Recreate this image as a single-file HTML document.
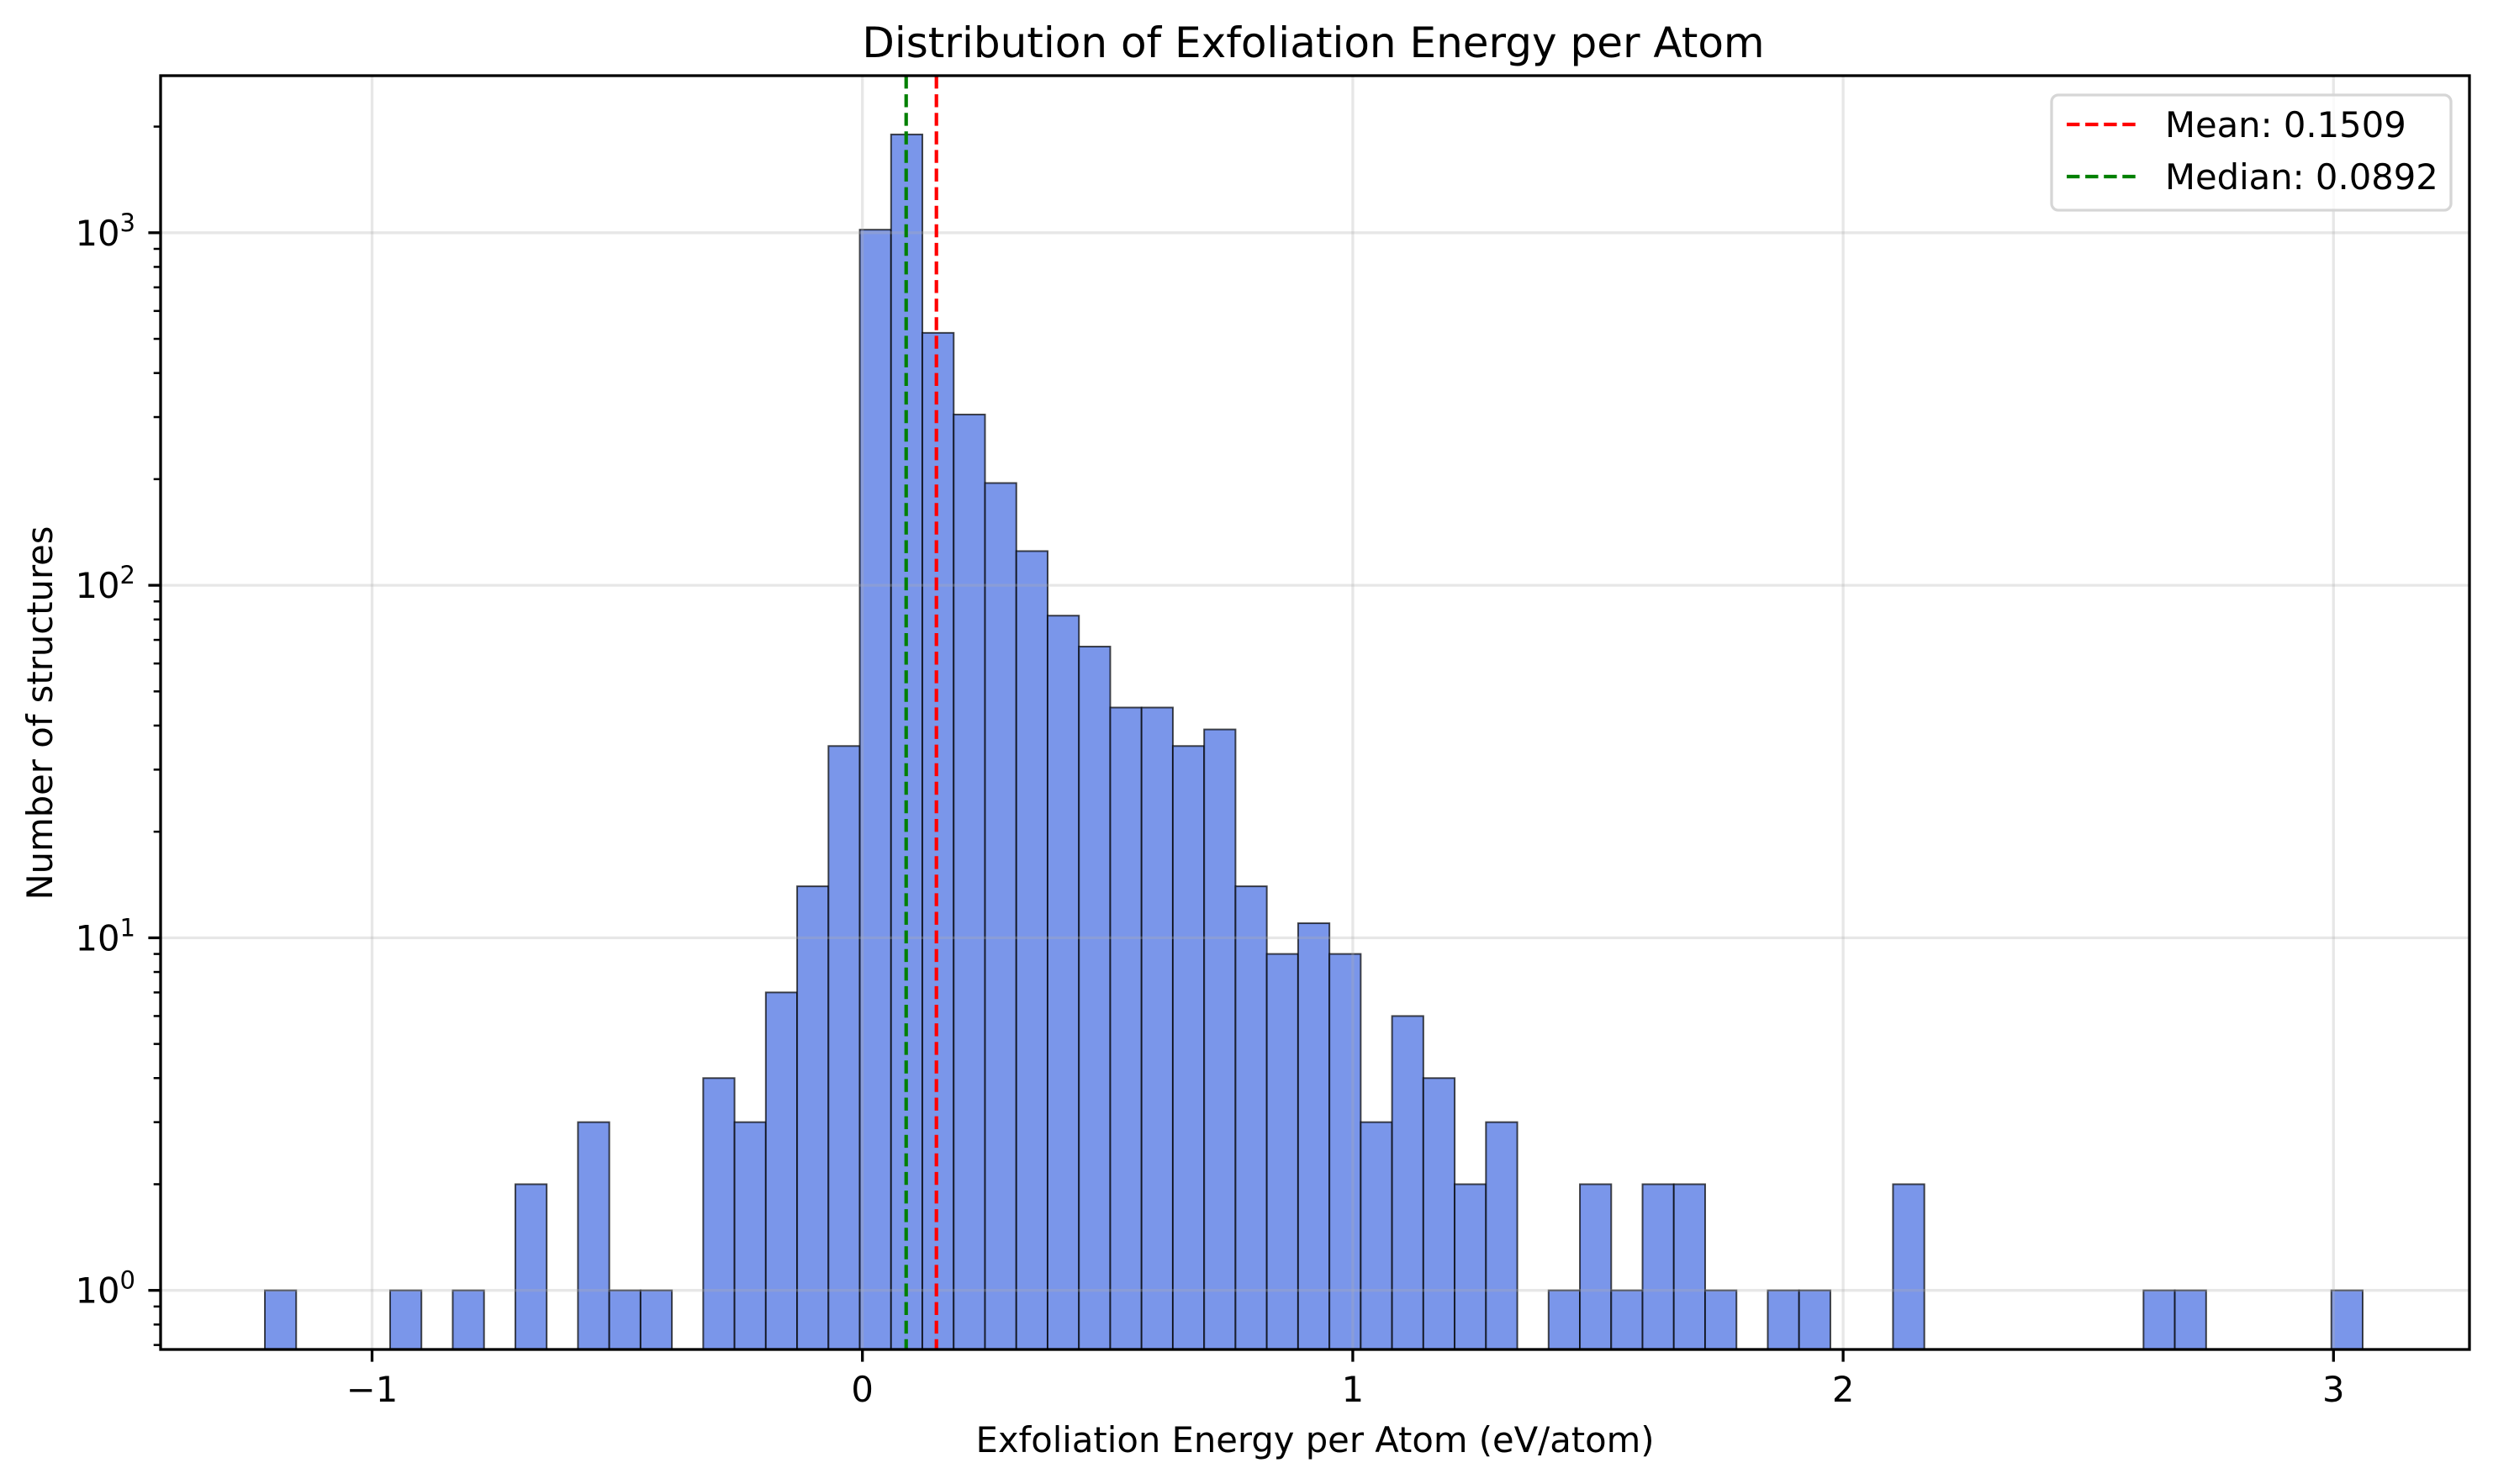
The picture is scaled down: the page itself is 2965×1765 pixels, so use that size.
<!DOCTYPE html>
<html><head><meta charset="utf-8"><style>
html,body{margin:0;padding:0;background:#fff;}
svg{display:block;font-family:"DejaVu Sans","Liberation Sans",sans-serif;}
</style></head><body>
<svg id="chart" width="2965" height="1765" viewBox="0 0 2965 1765" xmlns="http://www.w3.org/2000/svg">
<rect x="0" y="0" width="2965" height="1765" fill="#fff"/>
<g id="bars"></g>
<g id="grid"></g>
<g id="refs"></g>
<rect x="191" y="90" width="2746" height="1515" fill="none" stroke="#000" stroke-width="3.3"/>
<g id="xticks"></g>
<g id="yticks"></g>
<text x="1562" y="68" font-size="50" text-anchor="middle">Distribution of Exfoliation Energy per Atom</text>
<text x="1564" y="1727" font-size="41.7" text-anchor="middle">Exfoliation Energy per Atom (eV/atom)</text>
<text x="0" y="0" font-size="41.7" text-anchor="middle" transform="translate(62,848) rotate(-90)">Number of structures</text>
<g>
<rect x="2440" y="113" width="475" height="137" rx="8" fill="#fff" fill-opacity="0.8" stroke="#d6d6d6" stroke-width="3.3"/>
<line x1="2458" y1="148" x2="2541" y2="148" stroke="#ff0000" stroke-width="4.2" stroke-dasharray="15.4,6.7"/>
<text x="2575" y="163" font-size="41.7">Mean: 0.1509</text>
<line x1="2458" y1="210" x2="2541" y2="210" stroke="#008000" stroke-width="4.2" stroke-dasharray="15.4,6.7"/>
<text x="2575" y="225" font-size="41.7">Median: 0.0892</text>
</g>
</svg>
<script>
const binStart = -1.2186;
const binEnd = 3.0595;
const counts = [1,0,0,0,1,0,1,0,2,0,3,1,1,0,4,3,7,14,35,1020,1900,520,305,195,125,82,67,45,45,35,39,14,9,11,9,3,6,4,2,3,0,1,2,1,2,2,1,0,1,1,0,0,2,0,0,0,0,0,0,0,1,1,0,0,0,0,1];
const xTicks = [-1,0,1,2,3];
const xTickLabels = ["\u22121","0","1","2","3"];
const yTickExps = [0,1,2,3];
const meanValue = 0.1509;
const medianValue = 0.0892;

const NS = "http://www.w3.org/2000/svg";
const L = 191, R = 2937, T = 90, B = 1605;
function xs(v){ return 1025.7 + v * 583.2; }
function ys(v){ return 1534.7 - Math.log10(v) * 419.3; }
function mk(tag, attrs, parent){
  const e = document.createElementNS(NS, tag);
  for (const k in attrs) e.setAttribute(k, attrs[k]);
  parent.appendChild(e);
  return e;
}
const grid = document.getElementById('grid');
const bars = document.getElementById('bars');
const refs = document.getElementById('refs');
const xg = document.getElementById('xticks');
const yg = document.getElementById('yticks');

xTicks.forEach((t, i) => {
  const x = xs(t);
  const gl = mk('line', {x1:x, y1:T, x2:x, y2:B, stroke:'#b0b0b0', 'stroke-opacity':0.3, 'stroke-width':3.3}, grid);
  
  
  const tk = mk('line', {x1:x, y1:B, x2:x, y2:B+14.6, stroke:'#000', 'stroke-width':3.3}, xg);
  
  
  const tx = mk('text', {x:x, y:1667, 'font-size':41.7, 'text-anchor':'middle'}, xg);
  tx.textContent = xTickLabels[i];
  
  
});

yTickExps.forEach(p => {
  const y = ys(Math.pow(10, p));
  const gl = mk('line', {x1:L, y1:y, x2:R, y2:y, stroke:'#b0b0b0', 'stroke-opacity':0.3, 'stroke-width':3.3}, grid);
  
  
  const tk = mk('line', {x1:L-14.6, y1:y, x2:L, y2:y, stroke:'#000', 'stroke-width':3.3}, yg);
  
  
  const tx = mk('text', {x:161, y:y+15, 'font-size':41.7, 'text-anchor':'end'}, yg);
  
  
  const a = document.createElementNS(NS, 'tspan'); a.textContent = '10'; tx.appendChild(a);
  const b = document.createElementNS(NS, 'tspan');
  b.setAttribute('font-size', '29'); b.setAttribute('dy', '-17'); b.textContent = String(p);
  tx.appendChild(b);
});
for (let p = -1; p <= 3; p++) {
  for (let m = 2; m <= 9; m++) {
    const v = m * Math.pow(10, p);
    const y = ys(v);
    if (y < T || y > B) continue;
    const tk = mk('line', {x1:L-8.3, y1:y, x2:L, y2:y, stroke:'#000', 'stroke-width':2.5}, yg);
    
    
  }
}

const bw = (binEnd - binStart) / counts.length;
counts.forEach((c, i) => {
  if (c <= 0) return;
  const x0 = xs(binStart + i * bw), x1 = xs(binStart + (i + 1) * bw);
  const y = ys(c);
  const r = mk('rect', {x:x0, y:y, width:x1-x0, height:B-y, fill:'#7a96ea', stroke:'#000', 'stroke-opacity':0.7, 'stroke-width':2}, bars);
  
  
});

const ml = mk('line', {x1:xs(meanValue), y1:T, x2:xs(meanValue), y2:B, stroke:'#ff0000', 'stroke-width':4.2, 'stroke-dasharray':'15.4,6.7'}, refs);


const dl = mk('line', {x1:xs(medianValue), y1:T, x2:xs(medianValue), y2:B, stroke:'#008000', 'stroke-width':4.2, 'stroke-dasharray':'15.4,6.7'}, refs);


</script>
</body></html>
